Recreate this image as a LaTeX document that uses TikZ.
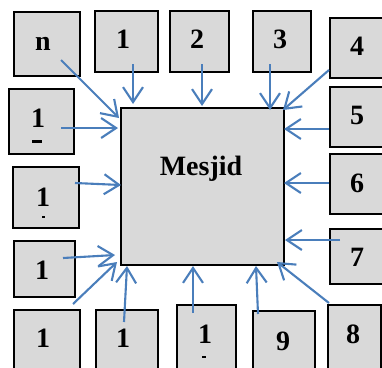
\documentclass[tikz,border=0pt]{standalone}
\usepackage{fontspec}
\setmainfont{Liberation Serif}
\usetikzlibrary{arrows.meta}
\definecolor{tilegray}{HTML}{D9D9D9}
\definecolor{flowblue}{HTML}{4A7EBB}
\tikzset{
  tile/.style={draw=black, line width=1.7pt, fill=tilegray, inner sep=0pt, anchor=north west},
  lbl/.style={font=\fontsize{28}{28}\selectfont\bfseries, inner sep=0pt, anchor=base},
  flow/.style={draw=flowblue, line width=2.1pt, -{Straight Barb[length=15pt,width=20pt]}},
}
% \tileat{name}{x1}{y1}{x2}{y2}: a grey square from top-left to bottom-right
\newcommand\tileat[5]{%
  \node[tile, minimum width={(#4-#2)*1pt}, minimum height={(#5-#3)*1pt}] (#1) at (#2,#3) {};}
\begin{document}
\begin{tikzpicture}[x=1pt,y=-1pt]
  \useasboundingbox (0,0) rectangle (382,367);
  \clip (0,0) rectangle (382,367);

  % central building
  \tileat{mesjid}{120}{107}{283}{264}
  \node[lbl] (tm) at (201,175) {Mesjid};

  % surrounding squares
  \tileat{bn}{13}{11}{79}{75}
  \tileat{bt1}{94}{10}{157}{71}
  \tileat{bt2}{169}{10}{228}{71}
  \tileat{bt3}{252}{10}{310}{71}
  \tileat{br4}{329}{17}{386}{77}
  \tileat{br5}{329}{86}{386}{146}
  \tileat{br6}{329}{153}{386}{213}
  \tileat{br7}{329}{228}{386}{283}
  \tileat{br8}{327}{304}{380}{372}
  \tileat{bb9}{252}{310}{314}{372}
  \tileat{bbc}{176}{304}{235}{372}
  \tileat{bbb}{95}{309}{157}{372}
  \tileat{bba}{13}{309}{79}{372}
  \tileat{blc}{13}{240}{74}{296}
  \tileat{blb}{12}{166}{78}{227}
  \tileat{bla}{8}{88}{73}{153}

  % labels
  \node[lbl] (tn)  at (43,50)  {n};
  \node[lbl] (tt1) at (123,48) {1};
  \node[lbl] (tt2) at (197,48) {2};
  \node[lbl] (tt3) at (280,48) {3};
  \node[lbl] (tr4) at (357,55) {4};
  \node[lbl] (tr5) at (357,124) {5};
  \node[lbl] (tr6) at (357,192) {6};
  \node[lbl] (tr7) at (357,266) {7};
  \node[lbl] (tr8) at (353,343) {8};
  \node[lbl] (tb9) at (283,350) {9};
  \node[lbl] (tbc) at (205,343) {1};
  \node[lbl] (tbb) at (123,347) {1};
  \node[lbl] (tba) at (43,347) {1};
  \node[lbl] (tlc) at (42,279) {1};
  \node[lbl] (tlb) at (43,206) {1};
  \node[lbl] (tla) at (38,127) {1};

  % clipped second lines of text
  \fill (32,139.5) rectangle (42,143);
  \fill (42,216) rectangle (45,217.5);
  \fill (202,356) rectangle (206,357.5);

  % arrow ends
  \coordinate (sn) at (61,60);    \coordinate (en) at (119,118);
  \coordinate (st1) at (133,64);  \coordinate (et1) at (133,104);
  \coordinate (st2) at (202,64);  \coordinate (et2) at (202,106);
  \coordinate (st3) at (270,64);  \coordinate (et3) at (270,110);
  \coordinate (sr4) at (329,70);  \coordinate (er4) at (283,110);
  \coordinate (sr5) at (329,129); \coordinate (er5) at (284,129);
  \coordinate (sr6) at (329,183); \coordinate (er6) at (284,183);
  \coordinate (sr7) at (340,240); \coordinate (er7) at (285,240);
  \coordinate (sr8) at (329,303); \coordinate (er8) at (277,262);
  \coordinate (sb9) at (258,314); \coordinate (eb9) at (256,266);
  \coordinate (sbc) at (193,313); \coordinate (ebc) at (193,266);
  \coordinate (sbb) at (124,322); \coordinate (ebb) at (127,266);
  \coordinate (sba) at (73,304);  \coordinate (eba) at (117,262);
  \coordinate (slc) at (63,258);  \coordinate (elc) at (115,255);
  \coordinate (slb) at (75,183);  \coordinate (elb) at (121,185);
  \coordinate (sla) at (61,128);  \coordinate (ela) at (118,128);

  % flows towards the building
  \foreach \k in {n,t1,t2,t3,r4,r5,r6,r7,r8,b9,bc,bb,ba,lc,lb,la}
    \draw[flow] (s\k) -- (e\k);
\end{tikzpicture}
\end{document}
